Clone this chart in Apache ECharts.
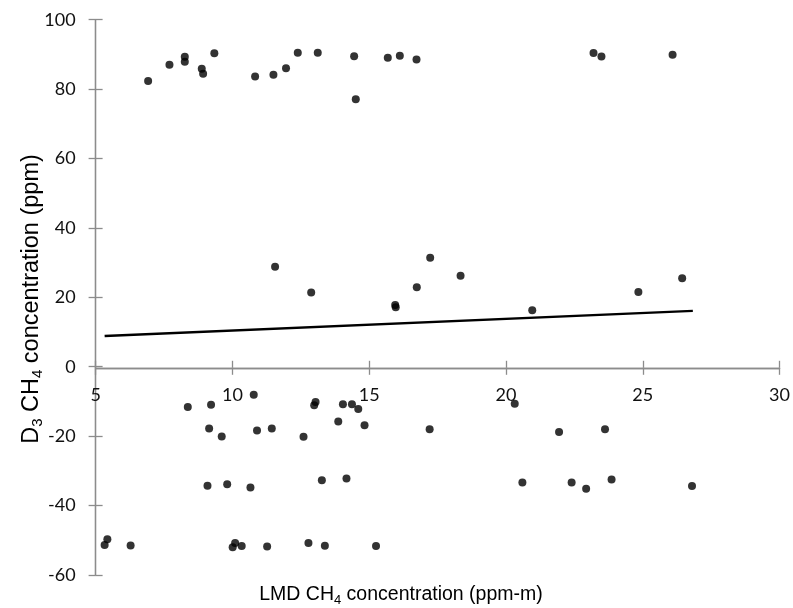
<!DOCTYPE html>
<html>
<head>
<meta charset="utf-8">
<script src="https://cdn.jsdelivr.net/npm/echarts@6/dist/echarts.min.js"></script>
<style>
  html, body { margin: 0; padding: 0; background: #fff; }
  #chart { width: 793px; height: 608px; }
</style>
</head>
<body>
<div id="chart"></div>
<script>
// LMD path-integrated readings (ppm-m) against D3 point readings (ppm)
const lmdValues = [
  6.92, 7.70, 8.26, 8.26, 8.88, 8.93, 9.34, 10.83, 11.50, 11.96, 12.39, 13.12,
  14.45, 14.51, 15.68, 16.12, 16.73, 23.20, 23.49, 26.09,
  11.56, 12.88, 15.95, 15.97, 16.74, 17.23, 18.34, 20.96, 24.84, 26.44,
  8.37, 9.22, 10.78, 9.15, 9.61, 10.90, 11.44, 12.60, 13.04, 12.99, 14.04, 14.37,
  14.60, 13.87, 14.83, 17.21, 20.32, 21.94, 23.62,
  9.09, 9.81, 10.66, 13.27, 14.17, 20.60, 22.40, 22.93, 23.86, 26.80,
  5.33, 5.43, 6.28, 10.01, 10.10, 10.34, 11.27, 12.78, 13.38, 15.25
];
const d3Values = [
  82.3, 87.0, 89.3, 87.9, 85.9, 84.4, 90.3, 83.6, 84.1, 86.0, 90.5, 90.5,
  89.5, 77.1, 89.0, 89.6, 88.5, 90.4, 89.4, 89.9,
  28.8, 21.4, 17.8, 17.1, 22.9, 31.4, 26.2, 16.25, 21.5, 25.5,
  -11.6, -11.0, -8.1, -17.8, -20.1, -18.4, -17.8, -20.2, -10.2, -11.1, -10.8, -10.8,
  -12.2, -15.8, -16.9, -18.0, -10.7, -18.8, -18.0,
  -34.3, -33.9, -34.8, -32.7, -32.2, -33.4, -33.4, -35.2, -32.5, -34.4,
  -51.4, -49.7, -51.5, -52.0, -50.8, -51.7, -51.8, -50.8, -51.6, -51.7
];

// Linear trend line end points
const trendX = [5.33, 26.83];
const trendY = [8.85, 16.1];

const xTicks = [5, 10, 15, 20, 25, 30];
const yTicks = [-60, -40, -20, 0, 20, 40, 60, 80, 100];

const points = lmdValues.map((x, i) => [x, d3Values[i]]);
const trend = trendX.map((x, i) => [x, trendY[i]]);

const axisGray = '#8c8c8c';
const tickFont = { fontFamily: 'Lato', fontSize: 18, color: '#111' };

// Excel-style "cross" ticks: one axis with outside ticks, a twin with inside ticks
function xAxisCfg(inside, showLabel) {
  return {
    type: 'value',
    min: xTicks[0], max: xTicks[xTicks.length - 1], interval: 5,
    position: 'bottom',
    offset: 0,
    axisLine: { show: true, onZero: false, lineStyle: { color: axisGray, width: 1.3 } },
    axisTick: { show: true, inside: inside, length: 7, lineStyle: { color: axisGray, width: 1.3 } },
    axisLabel: Object.assign({ show: showLabel, margin: 18 }, tickFont),
    splitLine: { show: false }
  };
}
function yAxisCfg(inside, showLabel) {
  return {
    type: 'value',
    min: yTicks[0], max: yTicks[yTicks.length - 1], interval: 20,
    position: 'left',
    offset: 0,
    axisLine: { show: true, onZero: false, lineStyle: { color: axisGray, width: 1.3 } },
    axisTick: { show: true, inside: inside, length: 7, lineStyle: { color: axisGray, width: 1.3 } },
    axisLabel: Object.assign({ show: showLabel, margin: 20 }, tickFont),
    splitLine: { show: false }
  };
}

function titleRich(size) {
  const sub = Math.round(size * 0.65);
  return {
    n: { fontFamily: 'Liberation Sans', fontSize: size, color: '#000', lineHeight: size + 4 },
    s: { fontFamily: 'Liberation Sans', fontSize: sub, color: '#000', lineHeight: size + 4,
         verticalAlign: 'bottom', padding: [Math.round(size * 0.45), 0, 0, 0] }
  };
}

const chart = echarts.init(document.getElementById('chart'), null, { renderer: 'canvas' });
chart.setOption({
  backgroundColor: '#fff',
  animation: false,
  grid: { left: 95.6, right: 13.3, top: 19.7, bottom: 33.1, containLabel: false },
  xAxis: [xAxisCfg(false, true), xAxisCfg(true, false)],
  yAxis: [yAxisCfg(false, true), yAxisCfg(true, false)],
  graphic: [
    {
      type: 'text',
      x: 401, y: 595,
      style: {
        text: '{n|LMD CH}{s|4}{n| concentration (ppm-m)}',
        align: 'center', verticalAlign: 'middle',
        rich: titleRich(19.5)
      }
    },
    {
      type: 'text',
      x: 32, y: 299, rotation: Math.PI / 2,
      style: {
        text: '{n|D}{s|3}{n| CH}{s|4}{n| concentration (ppm)}',
        align: 'center', verticalAlign: 'middle',
        rich: titleRich(23.5)
      }
    }
  ],
  series: [
    {
      type: 'scatter',
      xAxisIndex: 0, yAxisIndex: 0,
      data: points,
      symbol: 'circle',
      symbolSize: 8,
      itemStyle: { color: '#000' },
      z: 3
    },
    {
      type: 'line',
      xAxisIndex: 0, yAxisIndex: 0,
      data: trend,
      symbol: 'none',
      lineStyle: { color: '#000', width: 2.3 },
      z: 2
    }
  ]
});

// Lift the horizontal axes so they cross the vertical axis at y = 0
const zeroY = chart.convertToPixel({ yAxisIndex: 0 }, 0);
const bottomY = chart.convertToPixel({ yAxisIndex: 0 }, yTicks[0]);
const lift = zeroY - bottomY;
chart.setOption({ xAxis: [{ offset: lift }, { offset: lift }] });
</script>
</body>
</html>
